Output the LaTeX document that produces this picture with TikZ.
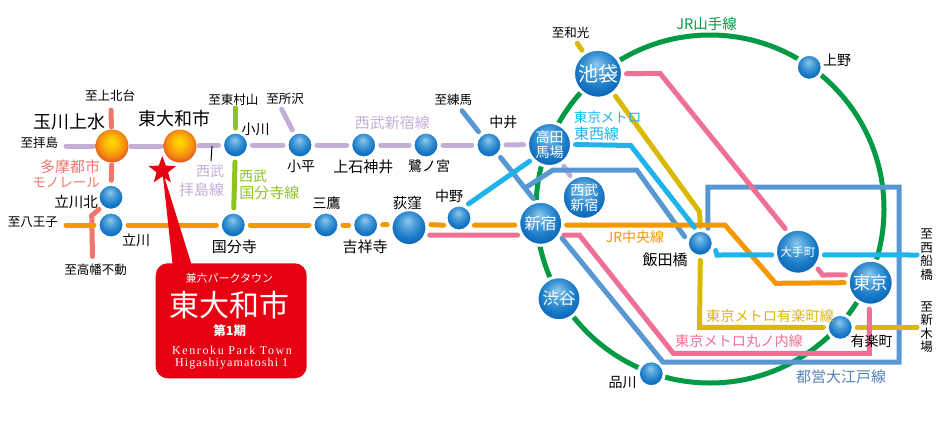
\documentclass[tikz,border=0pt]{standalone}
\usepackage{fontspec}
\setmainfont{Noto Sans CJK JP}
\newfontfamily\latinfont[LetterSpace=9]{Liberation Serif}
\newfontfamily\latinwide[LetterSpace=13.5]{Liberation Serif}
\usetikzlibrary{shapes.geometric}

\pgfdeclareradialshading{stablue}{\pgfpoint{-2bp}{10bp}}{rgb(0bp)=(.56,.79,.93); rgb(10bp)=(.3,.62,.85); rgb(20bp)=(.1,.48,.78); rgb(30bp)=(.02,.38,.7); rgb(50bp)=(.02,.38,.7)}
\pgfdeclareradialshading{staorange}{\pgfpoint{-1bp}{7bp}}{rgb(0bp)=(1,.87,0); rgb(10bp)=(.99,.73,.02); rgb(20bp)=(.96,.55,.07); rgb(28bp)=(.88,.33,.12); rgb(50bp)=(.88,.33,.12)}

\tikzset{
  station/.style={circle, minimum size=#1, inner sep=0pt, draw=white, line width=3pt, outer sep=4pt, shade, shading=stablue, text=white, align=center},
  hub/.style={circle, minimum size=#1, inner sep=0pt, outer sep=2.5pt, shade, shading=staorange},
  lab/.style={font=\fontsize{#1}{#1}\selectfont, inner sep=0pt},
  railway/.style={line width=5pt, line cap=round, line join=miter}
}

\begin{document}
\begin{tikzpicture}[x=1pt,y=-1pt]

% Define colors for each line
\definecolor{seibu}{RGB}{195,174,214}
\definecolor{kokubunji}{RGB}{143,195,31}
\definecolor{monorail}{RGB}{238,120,110}
\definecolor{chuo}{RGB}{243,152,0}
\definecolor{yamanote}{RGB}{0,153,68}
\definecolor{tozai}{RGB}{30,180,235}
\definecolor{yurakucho}{RGB}{218,186,0}
\definecolor{marunouchi}{RGB}{238,112,148}
\definecolor{oedo}{RGB}{88,152,210}
\definecolor{oedotext}{RGB}{84,130,182}
\definecolor{projred}{RGB}{230,0,18}

\useasboundingbox (0,0) rectangle (940,429);

% Yamanote ring goes under the stations
\draw[railway, yamanote] (710,209) circle [radius=174];

% Stations
\node[hub=33] (tamagawa) at (112,146) {};
\node[hub=33] (higashiyamato) at (180,146) {};
\node[station=26] (ogawa) at (235.5,145) {};
\node[station=26] (kodaira) at (300,145) {};
\node[station=26] (kamishakujii) at (363.7,145) {};
\node[station=26] (saginomiya) at (426,145) {};
\node[station=26] (nakai) at (489,145) {};
\node[station=44, font=\fontsize{14}{15}\selectfont] (baba) at (549.5,144.5) {高田\\馬場};
\node[station=44, font=\fontsize{14}{15}\selectfont] (seibushinjuku) at (584.3,197.3) {西武\\新宿};
\node[station=44, font=\fontsize{16}{16}\selectfont] (shinjuku) at (540.7,223.3) {新宿};
\node[station=26] (nakano) at (459,218) {};
\node[station=36] (ogikubo) at (409,227.7) {};
\node[station=26] (kichijoji) at (365.7,225) {};
\node[station=26] (mitaka) at (326,225) {};
\node[station=26] (kokubunjist) at (233.3,225) {};
\node[station=26] (tachikawa) at (111,225) {};
\node[station=26] (tachikita) at (111,197.3) {};
\node[station=49, font=\fontsize{20}{20}\selectfont] (ikebukuro) at (598,73.7) {池袋};
\node[station=26] (ueno) at (809.3,67.3) {};
\node[station=26] (iidabashi) at (700.3,243.3) {};
\node[station=45, font=\fontsize{11.7}{12}\selectfont] (otemachi) at (798,251.7) {大手町};
\node[station=45, font=\fontsize{17.5}{18}\selectfont] (tokyo) at (870.7,282.7) {東京};
\node[station=26] (yurakuchost) at (840.3,327.3) {};
\node[station=44, font=\fontsize{16.5}{17}\selectfont] (shibuya) at (559,298.7) {渋谷};
\node[station=26] (shinagawa) at (651.3,373.7) {};

% Free line ends
\coordinate (haijima) at (66,146);
\coordinate (kamikita) at (111,110);
\coordinate (hachioji) at (66,225);
\coordinate (takahata) at (92.5,256.5);
\coordinate (murayama) at (235.5,108);
\coordinate (tokorozawa) at (281.7,109.3);
\coordinate (nerima) at (462,110.7);
\coordinate (wako) at (577.3,43.3);
\coordinate (funabashi) at (917,255);
\coordinate (shinkiba) at (917,327.3);

% Seibu lines
\draw[railway, seibu] (haijima) -- (tamagawa);
\draw[railway, seibu] (tamagawa) -- (higashiyamato);
\draw[railway, seibu] (higashiyamato) -- (ogawa);
\draw[railway, seibu] (ogawa) -- (kodaira);
\draw[railway, seibu] (kodaira) -- (kamishakujii);
\draw[railway, seibu] (kamishakujii) -- (saginomiya);
\draw[railway, seibu] (saginomiya) -- (nakai);
\draw[railway, seibu] (nakai) -- (baba);
\draw[railway, seibu] (baba) -- (seibushinjuku);
\draw[railway, seibu] (tokorozawa) -- (kodaira);

% Kokubunji line
\draw[railway, kokubunji] (murayama) -- (ogawa);
\draw[railway, kokubunji] (ogawa) -- (kokubunjist);

% Monorail
\draw[railway, monorail] (kamikita) -- (tamagawa);
\draw[railway, monorail] (tamagawa) -- (tachikita);
\draw[railway, monorail] (tachikita.225) -- (91.7,215.7) -- (takahata);

% Oedo line
\draw[railway, oedo] (shinjuku.-35) -- (663,362) -- (899,362) -- (899,187) -- (707.8,187) -- (iidabashi.63);
\draw[railway, oedo] (iidabashi.157) -- (636.7,170) -- (553,170) -- (525,188);
\draw[railway, oedo] (nerima) -- (nakai);
\draw[railway, oedo] (nakai.-47) -- (shinjuku.107);

% Yurakucho line
\draw[railway, yurakucho] (wako) -- (ikebukuro);
\draw[railway, yurakucho] (ikebukuro.-52) -- (699.5,211.7) -- (iidabashi.north);
\draw[railway, yurakucho] (iidabashi.south) -- (699.5,327.3) -- (yurakuchost.west);
\draw[railway, yurakucho] (yurakuchost.east) -- (shinkiba);

% JR Chuo line
\draw[railway, chuo] (hachioji) -- (tachikawa);
\draw[railway, chuo] (tachikawa) -- (kokubunjist);
\draw[railway, chuo] (kokubunjist) -- (mitaka);
\draw[railway, chuo] (mitaka) -- (kichijoji);
\draw[railway, chuo] (kichijoji) -- (ogikubo.172);
\draw[railway, chuo] (ogikubo.8) -- (nakano.205);
\draw[railway, chuo] (nakano.-25) -- (shinjuku.184);
\draw[railway, chuo] (shinjuku.-4) -- (725,225) -- (775.7,283.3) -- (tokyo.west);

% Marunouchi line
\draw[railway, marunouchi] (ogikubo.-20) -- (shinjuku.207);
\draw[railway, marunouchi] (shinjuku.-27) -- (579.3,235) -- (673.3,353.3) -- (869.3,353.3) -- (tokyo.-93);
\draw[railway, marunouchi] (ikebukuro.east) -- (660,73.3) -- (otemachi.119);
\draw[railway, marunouchi] (otemachi.-41) -- (822.7,275) -- (tokyo.163);

% Tozai line
\draw[railway, tozai] (nakano.56) -- (baba.220);
\draw[railway, tozai] (baba.east) -- (630.7,145.5) -- (iidabashi.110);
\draw[railway, tozai] (iidabashi.-25) -- (717,255) -- (otemachi.187);
\draw[railway, tozai] (otemachi.-7) -- (funabashi);

% Property marker
\node[star, star points=5, star point ratio=2.4, fill=projred, minimum size=29pt, inner sep=0pt] (marker) at (162.3,170.5) {};
\node[rectangle, rounded corners=12pt, fill=projred, minimum width=151pt, minimum height=115pt] (property) at (231.2,320.8) {};
\coordinate (tailleft) at (172.7,265);
\coordinate (tailright) at (191.7,265);
\fill[projred] (marker.center) -- (tailright) -- (tailleft) -- cycle;
\node[lab=11, text=white] (propkana) at (229.3,278.3) {兼六パークタウン};
\node[lab=30, text=white] (propname) at (229,305) {東大和市};
\node[text=white, font=\fontsize{12.5}{12.5}\selectfont\bfseries, inner sep=0pt] (propterm) at (229.7,331) {第1期};
\node[text=white, font=\latinwide\fontsize{12}{12}\selectfont, inner sep=0pt] (propen) at (232,350.7) {Kenroku Park Town};
\node[text=white, font=\latinfont\fontsize{12}{12}\selectfont, inner sep=0pt] (propenb) at (231.7,363.3) {Higashiyamatoshi 1};

% Pointer for the Haijima label
\draw[black, line width=1pt] (212,146) -- (211,161);

% Station names
\node[lab=12.5] (tamkita) at (110,96) {至上北台};
\node[lab=18] (tamagawaname) at (69,121.7) {玉川上水};
\node[lab=18] (higashiname) at (174.7,119) {東大和市};
\node[lab=12.5] (haijimaname) at (39.3,142.7) {至拝島};
\node[lab=12.5] (hachiojiname) at (33,221.7) {至八王子};
\node[lab=14.5] (tachikitaname) at (76,201.7) {立川北};
\node[lab=14] (tachikawaname) at (136,240) {立川};
\node[lab=12.5] (takahataname) at (95.7,270) {至高幡不動};
\node[lab=12.5] (murayamaname) at (233.3,99.3) {至東村山};
\node[lab=12.5] (tokorozawaname) at (285,99.3) {至所沢};
\node[lab=14] (ogawaname) at (255.7,129.3) {小川};
\node[lab=14] (kodairaname) at (301,166.7) {小平};
\node[lab=15] (kokubunjiname) at (234.3,246.7) {国分寺};
\node[lab=14] (mitakaname) at (326.7,202.7) {三鷹};
\node[lab=15] (kichijojiname) at (365,246.7) {吉祥寺};
\node[lab=14.5] (ogikuboname) at (407.3,202.7) {荻窪};
\node[lab=14] (nakanoname) at (449,195.7) {中野};
\node[lab=15] (kamishakujiiname) at (363.3,166.7) {上石神井};
\node[lab=14] (saginomiyaname) at (429,166) {鷺ノ宮};
\node[lab=14] (nakainame) at (503.3,122.3) {中井};
\node[lab=12.5] (nerimaname) at (453.3,99.3) {至練馬};
\node[lab=12.5] (wakoname) at (570.7,32.3) {至和光};
\node[lab=14] (uenoname) at (837,60) {上野};
\node[lab=15] (iidabashiname) at (665,260) {飯田橋};
\node[lab=14] (yurakuchoname) at (871.7,340.7) {有楽町};
\node[lab=14] (shinagawaname) at (622.7,382.7) {品川};
\node[font=\fontsize{12.5}{13.5}\selectfont, inner sep=0pt, align=center] (funabashiname) at (926.7,254.5) {至\\西\\船\\橋};
\node[font=\fontsize{12.5}{13.5}\selectfont, inner sep=0pt, align=center] (shinkibaname) at (926.7,327) {至\\新\\木\\場};

% Line names
\node[lab=15, text=monorail] (monoa) at (70,166.7) {多摩都市};
\node[lab=13.5, text=monorail] (monob) at (66,182.7) {モノレール};
\node[lab=14, text=seibu] (haijimaa) at (210,171.7) {西武};
\node[lab=15, text=seibu] (haijimab) at (201.7,190) {拝島線};
\node[lab=14, text=kokubunji] (kokua) at (253,176) {西武};
\node[lab=15, text=kokubunji] (kokub) at (269.3,193.3) {国分寺線};
\node[lab=15, text=seibu] (seibuname) at (392.3,123.3) {西武新宿線};
\node[lab=13.5, text=tozai] (tozaia) at (607.7,117.3) {東京メトロ};
\node[lab=15, text=tozai] (tozaib) at (596.7,133.3) {東西線};
\node[lab=14.5, text=yamanote] (yamanotename) at (706.7,24.3) {JR山手線};
\node[lab=14, text=chuo] (chuoname) at (635,236.7) {JR中央線};
\node[lab=14.2, text=yurakucho] (yurakuchoname2) at (770,315.7) {東京メトロ有楽町線};
\node[lab=14.2, text=marunouchi] (marunouchiname) at (739,341) {東京メトロ丸ノ内線};
\node[lab=15, text=oedotext] (oedoname) at (841,376.7) {都営大江戸線};

\end{tikzpicture}
\end{document}
